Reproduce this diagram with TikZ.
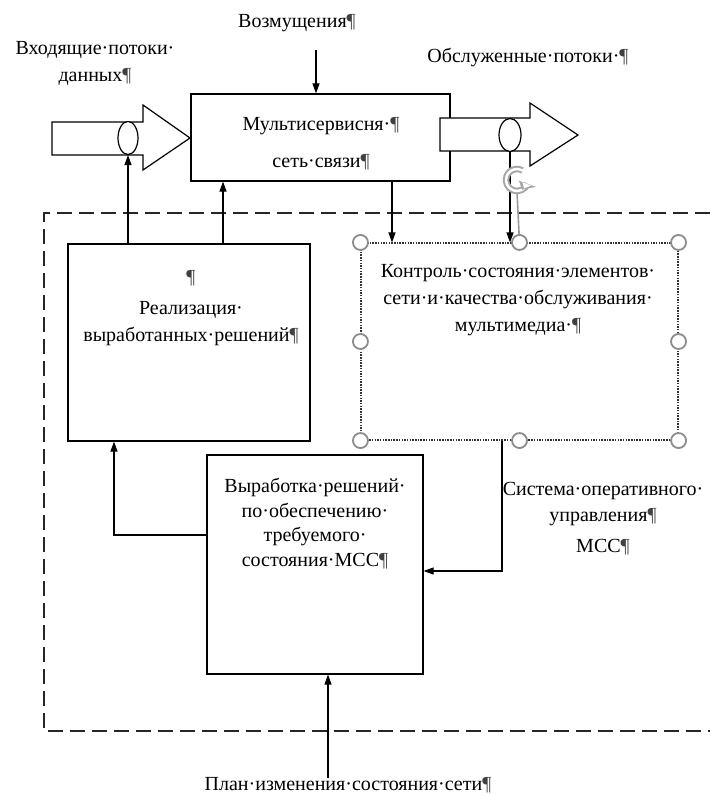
\documentclass[tikz,border=0pt]{standalone}
\usepackage{fontspec}
\setmainfont{Liberation Serif}
\usetikzlibrary{arrows.meta,shapes.geometric}
\newcommand{\pil}{\textcolor{black!75}{¶}}
\begin{document}
\begin{tikzpicture}[x=1pt,y=-1pt,
  box/.style={draw, line width=1.2pt, inner sep=0pt},
  arr/.style={line width=1.1pt, -{Triangle[length=10pt,width=7pt]}},
  blockarrow/.style={draw, line width=1.2pt, fill=white, line join=miter},
  ell/.style={ellipse, draw, line width=1.2pt, fill=white, inner sep=0pt},
  selframe/.style={draw=black!80, line width=1.1pt, dash pattern=on 1.5pt off 1.2pt, inner sep=0pt},
  handle/.style={circle, draw=black!45, line width=1.8pt, fill=white, minimum size=15pt, inner sep=0pt},
  frame/.style={line width=1.5pt, dash pattern=on 15pt off 7pt, black!85},
  lbl/.style={inner sep=0pt, align=center, font=\fontsize{20pt}{27pt}\selectfont}]
\useasboundingbox (0,0) rectangle (710,794);

% dashed outer frame (cut by the right border)
\draw[frame] (710,213) -- (44,213) -- (44,731) -- (710,731);

% blocks
\node[box, minimum width=259pt, minimum height=87pt] (mss) at (320.5,137.5) {};
\node[box, minimum width=242pt, minimum height=197pt] (real) at (189,342.5) {};
\node[selframe, minimum width=317pt, minimum height=197pt] (ctrl) at (519.5,341.5) {};
\node[box, minimum width=216pt, minimum height=219pt] (dec) at (315,564.5) {};

% block arrows
\draw[blockarrow] (52,122) -- (143,122) -- (143,105) -- (190,138) -- (143,170) -- (143,155) -- (52,155) -- cycle;
\draw[blockarrow] (440,118) -- (530,118) -- (530,103) -- (578,135) -- (530,166) -- (530,151) -- (440,151) -- cycle;
\node[ell, minimum width=20pt, minimum height=33pt] (inell) at (128,138) {};
\node[ell, minimum width=22pt, minimum height=33pt] (outell) at (510,135) {};

% texts
\node[lbl] (t-voz) at (297,23) {Возмущения\pil};
\node[lbl] (t-in) at (95,63) {Входящие·потоки·\\данных\pil};
\node[lbl] (t-out) at (528,58) {Обслуженные·потоки·\pil};
\node[lbl] (t-mss) at (321,143.5) {Мультисервисня·\pil\\[10pt]сеть·связи\pil};
\node[lbl] (t-real) at (191,308) {\pil\\[4pt]Реализация·\\выработанных·решений\pil};
\node[lbl] (t-ctrl) at (518,300) {Контроль·состояния·элементов·\\сети·и·качества·обслуживания·\\мультимедиа·\pil};
\node[lbl, font=\fontsize{20pt}{24.4pt}\selectfont] (t-dec) at (315,523.5) {Выработка·решений·\\по·обеспечению·\\требуемого·\\состояния·МСС\pil};
\node[lbl, font=\fontsize{20pt}{26pt}\selectfont] (t-sys) at (603,519) {Система·оперативного·\\управления\pil\\[5pt]МСС\pil};
\node[lbl] (t-plan) at (348,785) {План·изменения·состояния·сети\pil};

% helper coordinates
\coordinate (vozsrc) at (316,50);
\coordinate (x223) at (223,0);
\coordinate (x392) at (392,0);
\coordinate (x502) at (502,0);
\coordinate (x114) at (114,0);
\coordinate (y571) at (0,571);
\coordinate (y535) at (0,535);
\coordinate (plansrc) at (328,778);

% connectors
\draw[arr] (vozsrc) -- (vozsrc |- mss.north);
\draw[arr] (real.north -| inell) -- (inell.south);
\draw[arr] (real.north -| x223) -- (mss.south -| x223);
\draw[arr] (mss.south -| x392) -- (ctrl.north -| x392);
\draw[line width=1.6pt, black!40] (ctrl.north) -- (517,192);
\draw[arr] (outell.south) -- (ctrl.north -| outell);
\draw[arr] (ctrl.south -| x502) |- (dec.east |- y571);
\draw[arr] (dec.west |- y535) -| (real.south -| x114);
\draw[arr] (plansrc) -- (dec.south -| plansrc);

% selection handles
\foreach \a in {north west,north,north east,west,east,south west,south,south east}
  \node[handle] (h-\a) at (ctrl.\a) {};

% rotation handle
\coordinate (rot) at (517,180);
\draw[black!35, line width=6.5pt] ([shift={(20:11)}]rot) arc[start angle=20, end angle=300, radius=11];
\draw[white, line width=2.5pt] ([shift={(20:11)}]rot) arc[start angle=20, end angle=300, radius=11];
\fill[black!35] ([shift={(20:2)}]rot) -- ([shift={(20:20)}]rot) -- ([shift={(62:11)}]rot) -- cycle;
\fill[white] ([shift={(22:6)}]rot) -- ([shift={(22:15)}]rot) -- ([shift={(50:11)}]rot) -- cycle;
\end{tikzpicture}
\end{document}
